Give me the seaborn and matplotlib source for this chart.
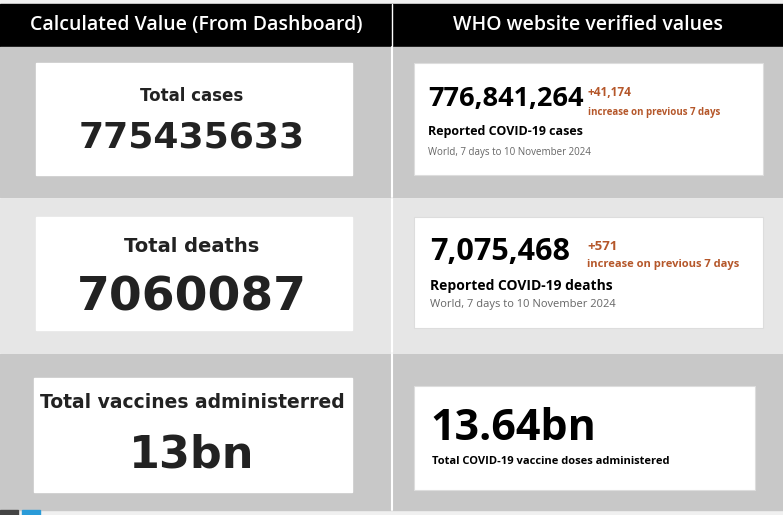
import matplotlib.pyplot as plt
import seaborn as sns
from matplotlib.patches import Rectangle

# table content
headers = ["Calculated Value (From Dashboard)", "WHO website verified values"]
dash_labels = ["Total cases", "Total deaths", "Total vaccines administerred"]
dash_values = ["775435633", "7060087", "13bn"]
who_values = ["776,841,264", "7,075,468", "13.64bn"]
who_increase = ["+41,174", "+571", ""]
who_titles = ["Reported COVID-19 cases", "Reported COVID-19 deaths",
              "Total COVID-19 vaccine doses administered"]
who_period = ["World, 7 days to 10 November 2024", "World, 7 days to 10 November 2024", ""]

sns.set_style("white")
plt.rcParams["font.family"] = ["Open Sans", "DejaVu Sans"]

W, H = 783, 515
f = plt.figure(figsize=(W / 100, H / 100), dpi=100)
ax = f.add_axes([0, 0, 1, 1])
ax.set_xlim(0, W)
ax.set_ylim(H, 0)
ax.axis("off")

ax.add_patch(Rectangle((0, 0), W, H, color="#f0f0f0"))
ax.add_patch(Rectangle((0, 4), W, 42, color="black"))
ax.plot([392, 392], [4, 46], color="white", lw=1)
for x, h in zip([196, 588], headers):
    ax.text(x, 25, h, color="white", ha="center", va="center", fontsize=14,
            fontweight="semibold")

rows = [(47, 150, "#c8c8c8"), (199, 153, "#e6e6e6"), (354, 156, "#c8c8c8")]
left_cards = [(36, 63, 316, 112), (36, 217, 316, 113), (34, 378, 318, 114)]
right_cards = [(414, 63, 349, 112), (414, 217, 349, 111), (414, 386, 341, 104)]
lab_y = [96, 247, 402]
val_y = [138, 298, 455]
lab_size = [12, 14, 13.5]
val_size = [26, 34, 32]

for i, (y0, h, c) in enumerate(rows):
    ax.add_patch(Rectangle((0, y0), W, h, color=c))
    ax.plot([392, 392], [y0, y0 + h], color="white", lw=1.5)
    lx, ly, lw_, lh = left_cards[i]
    ax.add_patch(Rectangle((lx, ly), lw_, lh, color="white"))
    rx, ry, rw, rh = right_cards[i]
    ax.add_patch(Rectangle((rx, ry), rw, rh, facecolor="white", edgecolor="#dddddd", lw=0.8))

    ax.text(192, lab_y[i], dash_labels[i], ha="center", va="center",
            fontsize=lab_size[i], fontweight="bold", color="#222222",
            family=["DejaVu Sans"])
    ax.text(192, val_y[i], dash_values[i], ha="center", va="center",
            fontsize=val_size[i], fontweight="bold", color="#222222",
            family=["DejaVu Sans"])

# WHO cards
ax.text(428, 99, who_values[0], va="center", fontsize=19.5, fontweight="bold", color="black")
ax.text(430, 252, who_values[1], va="center", fontsize=22, fontweight="bold", color="black")
ax.text(430, 428, who_values[2], va="center", fontsize=31, fontweight="bold", color="black")
orange = "#b5572a"
ax.text(588, 93, who_increase[0], va="center", fontsize=8.5, fontweight="bold", color=orange)
ax.text(588, 112, "increase on previous 7 days", va="center", fontsize=7, fontweight="bold", color=orange)
ax.text(587, 246, who_increase[1], va="center", fontsize=9.5, fontweight="bold", color=orange)
ax.text(587, 265, "increase on previous 7 days", va="center", fontsize=8, fontweight="bold", color=orange)
ax.text(428, 131, who_titles[0], va="center", fontsize=9, fontweight="bold", color="black")
ax.text(430, 286, who_titles[1], va="center", fontsize=10, fontweight="bold", color="black")
ax.text(432, 462, who_titles[2], va="center", fontsize=8, fontweight="bold", color="black")
ax.text(428, 152, who_period[0], va="center", fontsize=7, color="#666666")
ax.text(430, 305, who_period[1], va="center", fontsize=8, color="#666666")

ax.add_patch(Rectangle((0, 510), 18, 5, color="#444444"))
ax.add_patch(Rectangle((22, 510), 18, 5, color="#2a9bd8"))

f.savefig("out.png", dpi=100)
